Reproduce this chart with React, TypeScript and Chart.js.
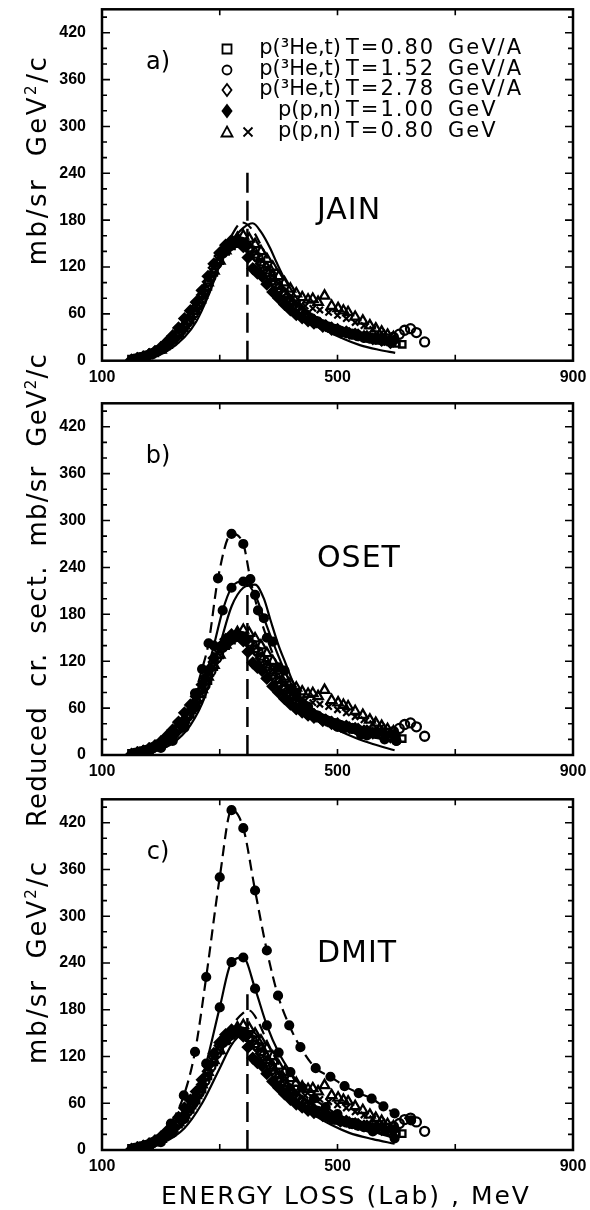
import React, { useEffect, useRef } from 'react';
import { Chart, registerables } from 'chart.js';
Chart.register(...registerables);

// ---------- axes ----------
const X_MIN = 100;
const X_MAX = 900;
const Y_MIN = 0;
const Y_MAX = 450;
const X_TICK_LABELS = [100, 500, 900];
const X_INNER_TICKS = [300, 500, 700];
const Y_TICK_LABELS = [0, 60, 120, 180, 240, 300, 360, 420];
const Y_MINOR_TICKS = [20, 40, 80, 100, 140, 160, 200, 220, 260, 280, 320, 340, 380, 400, 440];

// ---------- legend ----------
const LEGEND_REACTIONS = ['p(\u00B3He,t)', 'p(\u00B3He,t)', 'p(\u00B3He,t)', 'p(p,n)', 'p(p,n)'];
const LEGEND_ENERGIES = ['T=0.80', 'T=1.52', 'T=2.78', 'T=1.00', 'T=0.80'];
const LEGEND_UNITS = ['GeV/A', 'GeV/A', 'GeV/A', 'GeV', 'GeV'];
const PANEL_TAGS = ['a)', 'b)', 'c)'];
const MODEL_NAMES = ['JAIN', 'OSET', 'DMIT'];

// ---------- experimental data (same in every panel) ----------
const squareE = [150, 160, 170, 180, 190, 200, 210, 220, 230, 240, 250, 260, 270, 280, 290, 300, 310, 320, 330, 340, 350, 360, 370, 380, 390, 400, 410, 420, 430, 440, 450, 460, 470, 480, 490, 500, 510, 520, 530, 540, 550, 560, 570, 580, 590, 600, 610];
const squareV = [2, 3, 5, 7, 10, 14, 19, 26, 33, 42, 52, 64, 78, 95, 113, 128, 140, 147, 150, 149, 144, 136, 126, 116, 106, 96, 86, 77, 69, 62, 56, 51, 47, 44, 41, 38, 36, 35, 33, 31, 29, 28, 26, 25, 24, 22, 21];

const circleE = [155, 165, 175, 185, 195, 205, 215, 225, 235, 245, 255, 265, 275, 285, 295, 305, 315, 325, 335, 345, 355, 365, 375, 385, 395, 405, 415, 425, 435, 445, 455, 465, 475, 485, 495, 505, 515, 525, 535, 545, 555, 565, 575, 585, 595, 605, 614, 624, 634, 648];
const circleV = [2, 4, 6, 9, 13, 18, 24, 31, 39, 49, 60, 73, 89, 107, 124, 138, 146, 151, 152, 148, 141, 132, 121, 110, 99, 89, 80, 72, 65, 59, 54, 50, 46, 43, 40, 38, 36, 34, 32, 30, 29, 28, 27, 28, 30, 34, 39, 41, 36, 24];

const diamondE = [160, 170, 180, 190, 200, 210, 220, 230, 240, 250, 260, 270, 280, 290, 300, 310, 320, 330, 340, 350, 360, 370, 380, 390, 400, 410, 420, 430, 440, 450, 460, 470, 480, 490, 500, 515, 530, 545, 560, 575, 590];
const diamondV = [3, 5, 8, 11, 15, 21, 28, 36, 45, 56, 69, 84, 101, 119, 134, 145, 151, 153, 150, 143, 134, 124, 113, 103, 93, 84, 76, 68, 62, 57, 52, 48, 45, 42, 40, 37, 34, 31, 28, 26, 23];

const filledE = [150, 160, 170, 180, 190, 200, 210, 220, 230, 240, 250, 260, 270, 280, 290, 300, 310, 320, 330, 340, 348, 356, 364, 372, 380, 390, 400, 410, 420, 430, 440, 450, 460, 475, 490, 505, 520, 535, 550, 565, 580, 595];
const filledV = [1, 3, 5, 8, 12, 17, 24, 32, 42, 54, 64, 75, 90, 108, 124, 138, 148, 154, 155, 146, 132, 118, 112, 108, 98, 88, 80, 72, 65, 59, 55, 51, 48, 44, 40, 37, 35, 33, 31, 29, 27, 25];

const triangleE = [200, 210, 220, 230, 240, 250, 260, 270, 280, 290, 300, 310, 320, 330, 340, 350, 360, 370, 380, 390, 400, 410, 420, 430, 440, 450, 458, 467, 478, 490, 501, 510, 518, 530, 543, 555, 565, 575, 585, 595];
const triangleV = [14, 20, 27, 35, 45, 57, 70, 84, 100, 115, 128, 141, 150, 157, 160, 156, 149, 140, 130, 120, 108, 100, 92, 86, 81, 78, 79, 75, 83, 70, 67, 64, 62, 56, 51, 45, 41, 37, 33, 30];

const crossE = [420, 432, 445, 458, 470, 485, 500, 515, 530, 545, 560, 575];
const crossV = [78, 73, 70, 67, 65, 62, 58, 54, 49, 45, 40, 36];

// ---------- theory curves ----------
const deltaE = [347, 347];
const deltaVa = [0, 248];
const deltaVb = [0, 228];
const deltaVc = [0, 200];

// a) JAIN
const jainSolidE = [150, 180, 210, 240, 260, 280, 300, 320, 340, 356, 370, 385, 397, 410, 425, 440, 460, 482, 510, 538, 570, 598];
const jainSolidV = [0, 3, 12, 30, 50, 82, 122, 152, 170, 176, 165, 145, 125, 105, 87, 70, 54, 39, 28, 20, 14, 10];
const jainDashE = [150, 190, 230, 260, 280, 300, 320, 338, 355, 370, 390, 410, 440, 480, 520, 560, 600];
const jainDashV = [0, 8, 30, 58, 88, 125, 160, 177, 168, 148, 118, 92, 65, 44, 32, 24, 19];

// b) OSET
const osetDashDotE = [160, 180, 200, 220, 240, 258, 270, 281, 297, 320, 340, 352, 365, 380, 400, 420, 440, 470, 500, 540, 580, 600];
const osetDashDotV = [2, 5, 10, 20, 40, 79, 110, 143, 226, 283, 270, 225, 185, 150, 112, 85, 66, 48, 36, 26, 20, 18];
const osetSolidDotE = [160, 180, 200, 220, 240, 258, 275, 290, 305, 320, 340, 360, 375, 390, 410, 430, 450, 480, 510, 550, 600];
const osetSolidDotV = [1, 4, 9, 18, 35, 62, 98, 140, 185, 214, 222, 205, 175, 145, 108, 80, 62, 45, 34, 25, 18];
const osetSolidE = [160, 190, 220, 250, 275, 300, 320, 340, 360, 375, 386, 400, 412, 425, 437, 455, 475, 501, 530, 560, 597];
const osetSolidV = [1, 5, 15, 38, 75, 140, 190, 214, 218, 200, 173, 140, 117, 92, 75, 56, 43, 32, 22, 14, 6];

// c) DMIT
const dmitDashDotE = [180, 200, 217, 239, 258, 277, 300, 320, 340, 360, 380, 399, 418, 437, 463, 488, 512, 536, 558, 578, 597, 625];
const dmitDashDotV = [5, 14, 34, 70, 126, 222, 350, 436, 413, 333, 256, 198, 160, 132, 105, 94, 82, 73, 66, 56, 47, 38];
const dmitSolidDotE = [180, 200, 220, 240, 258, 277, 300, 320, 340, 360, 380, 400, 420, 440, 460, 480, 500, 530, 560, 597];
const dmitSolidDotV = [4, 10, 22, 40, 64, 111, 183, 241, 247, 207, 160, 125, 100, 80, 66, 55, 46, 34, 24, 15];
const dmitDashE = [160, 200, 240, 270, 300, 320, 340, 350, 365, 380, 400, 420, 450, 480, 520, 560, 597];
const dmitDashV = [2, 12, 35, 72, 125, 158, 176, 179, 165, 140, 110, 85, 60, 44, 32, 24, 18];
const dmitSolidE = [160, 200, 240, 270, 300, 320, 340, 355, 370, 390, 410, 430, 460, 490, 520, 560, 597];
const dmitSolidV = [1, 8, 28, 60, 105, 135, 150, 152, 140, 110, 85, 64, 45, 32, 22, 14, 8];

// ---------- helpers ----------
const pts = (e: number[], v: number[]) => e.map((x, i) => ({ x, y: v[i] }));

const FONT = '"DejaVu Sans", "Liberation Sans", sans-serif';

function expDatasets(): any[] {
  const base = { showLine: false, borderColor: '#000', borderWidth: 2.3, backgroundColor: 'rgba(255,255,255,0)' };
  return [
    { ...base, label: 'sq', data: pts(squareE, squareV), pointStyle: 'rect', pointRadius: 4.5 },
    { ...base, label: 'ci', data: pts(circleE, circleV), pointStyle: 'circle', pointRadius: 4.5 },
    { ...base, label: 'di', data: pts(diamondE, diamondV), pointStyle: 'rectRot', pointRadius: 5 },
    { ...base, label: 'fd', data: pts(filledE, filledV), pointStyle: 'rectRot', pointRadius: 5, backgroundColor: '#000' },
    { ...base, label: 'tr', data: pts(triangleE, triangleV), pointStyle: 'triangle', pointRadius: 5.5 },
    { ...base, label: 'x', data: pts(crossE, crossV), pointStyle: 'crossRot', pointRadius: 4.5, borderWidth: 2.2 },
  ];
}

function curve(e: number[], v: number[], dashed: boolean, dots: boolean): any {
  return {
    label: 'theory',
    data: pts(e, v),
    showLine: true,
    borderColor: '#000',
    backgroundColor: '#000',
    borderWidth: 2.2,
    borderDash: dashed ? [11, 6] : [],
    pointRadius: dots ? 4 : 0,
    pointStyle: 'circle',
    cubicInterpolationMode: 'monotone',
  };
}

function deltaLine(v: number[]): any {
  return {
    label: 'delta',
    data: pts(deltaE, v),
    showLine: true,
    borderColor: '#000',
    borderWidth: 2.5,
    borderDash: [20, 8],
    pointRadius: 0,
  };
}

function drawMarker(ctx: CanvasRenderingContext2D, kind: string, x: number, y: number) {
  ctx.save();
  ctx.lineWidth = 1.8;
  ctx.strokeStyle = '#000';
  ctx.fillStyle = '#000';
  ctx.beginPath();
  const r = 4.5;
  if (kind === 'rect') {
    ctx.rect(x - r, y - r, 2 * r, 2 * r);
    ctx.stroke();
  } else if (kind === 'circle') {
    ctx.arc(x, y, r, 0, Math.PI * 2);
    ctx.stroke();
  } else if (kind === 'rectRot' || kind === 'rectRotFill') {
    ctx.moveTo(x, y - r - 1.5);
    ctx.lineTo(x + r, y);
    ctx.lineTo(x, y + r + 1.5);
    ctx.lineTo(x - r, y);
    ctx.closePath();
    if (kind === 'rectRotFill') ctx.fill();
    ctx.stroke();
  } else if (kind === 'triangle') {
    ctx.moveTo(x, y - r - 1);
    ctx.lineTo(x + r + 1, y + r);
    ctx.lineTo(x - r - 1, y + r);
    ctx.closePath();
    ctx.stroke();
  } else if (kind === 'cross') {
    ctx.moveTo(x - r, y - r);
    ctx.lineTo(x + r, y + r);
    ctx.moveTo(x + r, y - r);
    ctx.lineTo(x - r, y + r);
    ctx.stroke();
  }
  ctx.restore();
}

const LEGEND_MARKERS = ['rect', 'circle', 'rectRot', 'rectRotFill', 'triangle'];

function makeFramePlugin(panelIndex: number) {
  return {
    id: 'frame' + panelIndex,
    afterDraw(chart: any) {
      const { ctx, chartArea } = chart;
      const { left, right, top, bottom } = chartArea;
      const xs = chart.scales.x;
      const ys = chart.scales.y;
      ctx.save();
      ctx.strokeStyle = '#000';
      ctx.lineWidth = 2.5;
      ctx.strokeRect(left, top, right - left, bottom - top);
      ctx.lineWidth = 1.6;
      ctx.beginPath();
      for (const v of Y_TICK_LABELS) {
        const py = ys.getPixelForValue(v);
        ctx.moveTo(left, py); ctx.lineTo(left + 8, py);
        ctx.moveTo(right, py); ctx.lineTo(right - 8, py);
      }
      for (const v of Y_MINOR_TICKS) {
        const py = ys.getPixelForValue(v);
        ctx.moveTo(left, py); ctx.lineTo(left + 5, py);
        ctx.moveTo(right, py); ctx.lineTo(right - 5, py);
      }
      for (const v of X_INNER_TICKS) {
        const px = xs.getPixelForValue(v);
        ctx.moveTo(px, bottom); ctx.lineTo(px, bottom - 6);
        ctx.moveTo(px, top); ctx.lineTo(px, top + 6);
      }
      ctx.stroke();

      // panel tag and model name
      ctx.fillStyle = '#000';
      ctx.textBaseline = 'middle';
      ctx.textAlign = 'center';
      ctx.font = '24px ' + FONT;
      ctx.fillText(PANEL_TAGS[panelIndex], left + 56, top + 53);
      ctx.textAlign = 'left';
      ctx.font = '30px ' + FONT;
      (ctx as any).letterSpacing = '1px';
      const modelY = [202, 156, 155][panelIndex];
      ctx.fillText(MODEL_NAMES[panelIndex], 317, top + modelY);
      (ctx as any).letterSpacing = '0px';

      if (panelIndex === 0) {
        const rowsY = [49, 70, 90, 111, 132];
        ctx.font = '21px ' + FONT;
        rowsY.forEach((ry, i) => {
          drawMarker(ctx, LEGEND_MARKERS[i], 227, ry);
          ctx.textAlign = 'right';
          (ctx as any).letterSpacing = '0px';
          ctx.fillText(LEGEND_REACTIONS[i], 341, ry);
          ctx.textAlign = 'left';
          (ctx as any).letterSpacing = '2px';
          ctx.fillText(LEGEND_ENERGIES[i], 346, ry);
          ctx.fillText(LEGEND_UNITS[i], 448, ry);
        });
        drawMarker(ctx, 'cross', 248, rowsY[4]);
        (ctx as any).letterSpacing = '0px';
      }
      ctx.restore();
    },
  };
}

type PanelCfg = { top: number; height: number; padTop: number; axisHeight: number; datasets: any[] };

const PANELS: PanelCfg[] = [
  {
    top: 0, height: 395, padTop: 9.3, axisHeight: 395 - 360.7,
    datasets: [...expDatasets(), curve(jainSolidE, jainSolidV, false, false), curve(jainDashE, jainDashV, true, false), deltaLine(deltaVa)],
  },
  {
    top: 395, height: 395, padTop: 8.3, axisHeight: 790 - 755,
    datasets: [...expDatasets(), curve(osetDashDotE, osetDashDotV, true, true), curve(osetSolidDotE, osetSolidDotV, false, true), curve(osetSolidE, osetSolidV, false, false), deltaLine(deltaVb)],
  },
  {
    top: 790, height: 420, padTop: 9.3, axisHeight: 1210 - 1150,
    datasets: [...expDatasets(), curve(dmitDashDotE, dmitDashDotV, true, true), curve(dmitSolidDotE, dmitSolidDotV, false, true), curve(dmitDashE, dmitDashV, true, false), curve(dmitSolidE, dmitSolidV, false, false), deltaLine(deltaVc)],
  },
];

function PanelChart({ cfg, index }: { cfg: PanelCfg; index: number }) {
  const ref = useRef<HTMLCanvasElement | null>(null);
  useEffect(() => {
    if (!ref.current) return;
    const tickFont = { family: '"Liberation Sans", Arial, sans-serif', size: 16, weight: 'bold' as const };
    const chart = new Chart(ref.current, {
      type: 'scatter',
      data: { datasets: cfg.datasets },
      options: {
        animation: false,
        responsive: false,
        events: [],
        layout: { padding: { top: cfg.padTop, right: 17, bottom: 0, left: 0 } },
        plugins: { legend: { display: false }, tooltip: { enabled: false } },
        scales: {
          x: {
            type: 'linear', min: X_MIN, max: X_MAX, position: 'bottom',
            grid: { display: false, drawTicks: false }, border: { display: false },
            ticks: { font: tickFont, color: '#000', padding: 7, maxRotation: 0, autoSkip: false },
            afterBuildTicks: (s: any) => { s.ticks = X_TICK_LABELS.map((v) => ({ value: v })); },
            afterFit: (s: any) => { s.height = cfg.axisHeight; s.paddingLeft = 0; s.paddingRight = 0; },
          },
          y: {
            type: 'linear', min: Y_MIN, max: Y_MAX,
            grid: { display: false, drawTicks: false }, border: { display: false },
            ticks: { font: tickFont, color: '#000', padding: 16, autoSkip: false },
            afterBuildTicks: (s: any) => { s.ticks = Y_TICK_LABELS.map((v) => ({ value: v })); },
            afterFit: (s: any) => { s.width = 102; s.paddingTop = 0; s.paddingBottom = 0; },
          },
        },
      } as any,
      plugins: [makeFramePlugin(index)],
    });
    return () => chart.destroy();
  }, [cfg, index]);
  return (
    <canvas ref={ref} width={590} height={cfg.height}
      style={{ position: 'absolute', left: 0, top: cfg.top, width: 590, height: cfg.height }} />
  );
}

const vTitle = (cx: number, cy: number, spacing: number): React.CSSProperties => ({
  position: 'absolute', left: cx, top: cy, transform: 'translate(-50%, -50%) rotate(-90deg)',
  fontFamily: FONT, fontSize: 26, letterSpacing: spacing, whiteSpace: 'nowrap', color: '#000', lineHeight: '30px',
});

export default function App() {
  return (
    <div style={{ position: 'absolute', left: 0, top: 0, width: 590, height: 1210, background: '#fff', overflow: 'hidden' }}>
      {PANELS.map((p, i) => <PanelChart key={i} cfg={p} index={i} />)}
      <div style={vTitle(34, 160, 2.5)}>mb/sr&nbsp;&nbsp;GeV<sup style={{ fontSize: 15 }}>2</sup>/c</div>
      <div style={vTitle(34, 590, 1.2)}>Reduced&nbsp; cr.&nbsp; sect.&nbsp; mb/sr&nbsp; GeV<sup style={{ fontSize: 15 }}>2</sup>/c</div>
      <div style={vTitle(34, 962, 2)}>mb/sr&nbsp;&nbsp;GeV<sup style={{ fontSize: 15 }}>2</sup>/c</div>
      <div style={{ position: 'absolute', left: 346, top: 1195, transform: 'translate(-50%, -50%)', fontFamily: FONT, fontSize: 25, letterSpacing: 2, whiteSpace: 'nowrap', color: '#000' }}>
        ENERGY LOSS (Lab) , MeV
      </div>
    </div>
  );
}
